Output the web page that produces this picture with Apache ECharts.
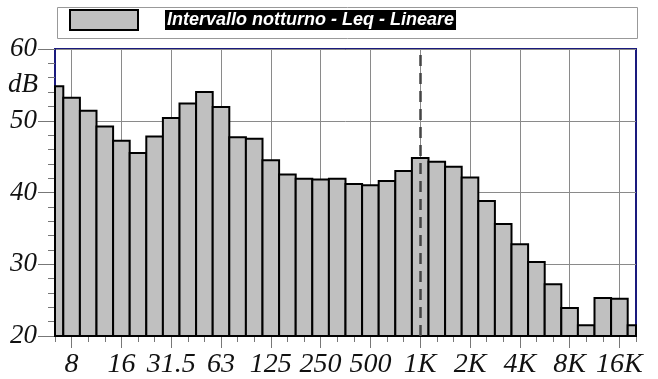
<!DOCTYPE html>
<html>
<head>
<meta charset="utf-8">
<script src="https://cdn.jsdelivr.net/npm/echarts@6/dist/echarts.min.js"></script>
<style>
  html, body { margin: 0; padding: 0; background: #fff; }
  #chart { width: 658px; height: 379px; }
</style>
</head>
<body>
<div id="chart"></div>
<script>
// bande di terzo d'ottava
const bands = ['6.3', '8', '10', '12.5', '16', '20', '25', '31.5', '40', '50', '63', '80',
  '100', '125', '160', '200', '250', '315', '400', '500', '630', '800', '1K', '1.25K',
  '1.6K', '2K', '2.5K', '3.15K', '4K', '5K', '6.3K', '8K', '10K', '12.5K', '16K', '20K']
// Leq lineare, dB
const leq = [54.8, 53.2, 51.4, 49.2, 47.2, 45.5, 47.8, 50.4, 52.4, 54.0, 51.9, 47.7,
  47.5, 44.5, 42.5, 41.9, 41.8, 41.9, 41.2, 41.0, 41.6, 43.0, 44.8, 44.3,
  43.6, 42.1, 38.8, 35.6, 32.8, 30.3, 27.2, 23.9, 21.5, 25.3, 25.2, 21.5]
const yTicks = [20, 30, 40, 50, 60]
const seriesName = 'Intervallo notturno - Leq - Lineare'
const markFreq = '1K'

const navy = '#1a1a7e'
const serif = 'Liberation Serif'

const chart = echarts.init(document.getElementById('chart'))

const data = leq.map((v, i) => [i, v])

function renderBar (params, api) {
  const i = api.value(0)
  const top = api.coord([i, api.value(1)])
  const bottom = api.coord([i, yTicks[0]])
  const w = api.coord([1, 0])[0] - api.coord([0, 0])[0]
  const rect = echarts.graphic.clipRectByRect({
    x: top[0] - w / 2,
    y: top[1],
    width: w,
    height: bottom[1] - top[1]
  }, {
    x: params.coordSys.x,
    y: params.coordSys.y,
    width: params.coordSys.width,
    height: params.coordSys.height
  })
  return rect && {
    type: 'rect',
    shape: rect,
    style: { fill: '#c0c0c0', stroke: '#000', lineWidth: 2 }
  }
}

const isMajor = (i) => i % 3 === 1

option = {
  animation: false,
  grid: {
    left: 55, right: 22, top: 49, bottom: 43,
    show: true, borderColor: navy, borderWidth: 2
  },
  legend: {
    left: 64, top: 4,
    icon: 'rect',
    itemWidth: 68, itemHeight: 20,
    itemStyle: { color: '#c0c0c0', borderColor: '#000', borderWidth: 2 },
    formatter: '{s|}{t|{name}}',
    textStyle: {
      rich: {
        s: { width: 22 },
        t: {
          color: '#fff', backgroundColor: '#000',
          fontFamily: 'Liberation Sans', fontWeight: 'bold', fontStyle: 'italic',
          fontSize: 18, lineHeight: 20, height: 20, padding: [0, 2, 0, 2]
        }
      }
    },
    data: [seriesName]
  },
  xAxis: [
    {
      type: 'category',
      data: bands,
      boundaryGap: false,
      axisLine: { lineStyle: { color: navy, width: 2 } },
      axisTick: { interval: 0, length: 6, lineStyle: { color: '#777' } },
      axisLabel: {
        interval: isMajor,
        margin: 15,
        color: '#111', fontFamily: serif, fontStyle: 'italic', fontSize: 28
      },
      splitLine: { show: true, interval: isMajor, lineStyle: { color: '#8a8a8a', width: 1 } }
    },
    {
      type: 'category',
      data: bands,
      boundaryGap: false,
      position: 'bottom',
      axisLine: { show: false },
      axisTick: { interval: isMajor, length: 12, lineStyle: { color: '#777' } },
      axisLabel: { show: false },
      splitLine: { show: false }
    }
  ],
  yAxis: {
    type: 'value',
    min: yTicks[0],
    max: yTicks[yTicks.length - 1],
    interval: 10,
    axisLine: { show: true, lineStyle: { color: navy, width: 1 } },
    axisTick: { show: true, length: 17, lineStyle: { color: '#777' } },
    minorTick: { show: true, splitNumber: 5, length: 7, lineStyle: { color: '#777' } },
    axisLabel: {
      margin: 18,
      color: '#111', fontFamily: serif, fontStyle: 'italic', fontSize: 27
    },
    splitLine: { lineStyle: { color: '#8a8a8a', width: 1 } }
  },
  graphic: [
    {
      id: 'legendBox',
      type: 'rect',
      left: 55, top: 5,
      shape: { width: 580, height: 31 },
      style: { fill: 'none', stroke: '#999', lineWidth: 1 },
      z: -1
    }
  ],
  series: [
    {
      name: seriesName,
      type: 'custom',
      renderItem: renderBar,
      data: data,
      encode: { x: 0, y: 1 },
      markLine: {
        silent: true,
        symbol: 'none',
        label: { show: false },
        lineStyle: { color: '#444', type: [11, 7], width: 2.5 },
        data: [{ xAxis: markFreq }]
      },
      z: 3
    }
  ]
}
chart.setOption(option)

// etichetta dB al posto del 55
const dbPos = chart.convertToPixel({ gridIndex: 0 }, [0, 55])
chart.setOption({
  graphic: [{
    id: 'dbLabel',
    type: 'text',
    x: 38,
    y: dbPos[1],
    style: {
      text: 'dB', fill: '#111',
      font: 'italic 27px "Liberation Serif"',
      textAlign: 'right', textVerticalAlign: 'middle'
    }
  }]
})
</script>
</body>
</html>
